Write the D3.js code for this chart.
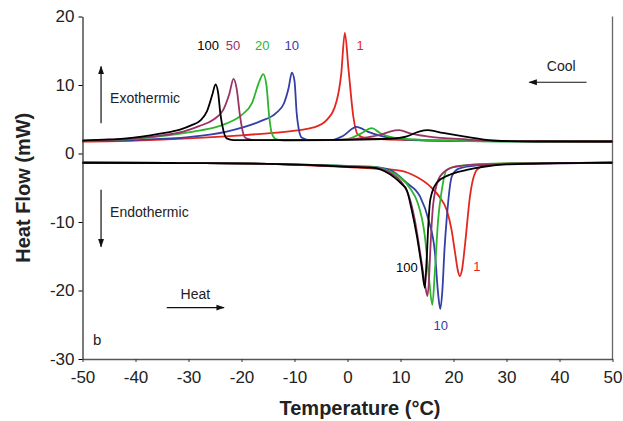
<!DOCTYPE html>
<html>
<head>
<meta charset="utf-8">
<script src="https://cdn.jsdelivr.net/npm/d3@7"></script>
<style>
  body { margin: 0; background: #fff; }
  text { font-family: Arial, "Liberation Sans", sans-serif; }
</style>
</head>
<body>
<div class="chart"></div>
<script>
const svgWidth = 623
const svgHeight = 421

let margin = { top: 16.5, right: 10.5, bottom: 62, left: 82.5 }
let width = svgWidth - margin.left - margin.right
let height = svgHeight - margin.top - margin.bottom

// ========================= DATA =========================
// rates (deg C / min)
const rates = ["1", "10", "20", "50", "100"]
const rateColors = ["#e3261f", "#3340a8", "#2db52d", "#993366", "#000000"]
const xTicks = [-50, -40, -30, -20, -10, 0, 10, 20, 30, 40, 50]
const yTicks = [-30, -20, -10, 0, 10, 20]

// cooling runs (exothermic) [temperature, heat flow]
const cool1 = [[-50, 1.75], [-40, 1.9], [-30, 2.2], [-20, 2.65], [-15, 2.95], [-10.3, 3.3], [-6.4, 3.8], [-3.9, 4.9],
  [-2.0, 7.8], [-1.2, 11.5], [-0.5, 17.6], [0.2, 12.2], [1.1, 5.4], [2.0, 2.7], [3.6, 2.25], [10, 2.0], [20, 1.9],
  [30, 1.8], [50, 1.75]]
const cool10 = [[-50, 1.8], [-40, 2.0], [-30, 2.4], [-22.8, 3.2], [-16.5, 4.7], [-13.5, 5.9], [-12, 7.3], [-11.1, 9.6],
  [-10.5, 11.8], [-10.0, 10.6], [-9.6, 6.0], [-9.1, 3.2], [-8.6, 2.3], [-7, 1.95], [-3, 1.95], [-0.8, 2.6],
  [1.7, 3.9], [3.8, 3.2], [6.1, 2.6], [10, 2.1], [15, 1.9], [25, 1.8], [50, 1.75]]
const cool20 = [[-50, 1.8], [-45, 1.95], [-40, 2.15], [-35.4, 2.5], [-29.1, 3.2], [-25, 3.8], [-22.8, 4.4], [-20, 5.6],
  [-18, 7.4], [-16.6, 10.6], [-15.9, 11.6], [-15.3, 10.0], [-14.8, 5.6], [-14.3, 3.0], [-13.5, 2.1], [-12, 1.9],
  [-3, 1.95], [0, 2.1], [2.5, 2.9], [4.6, 3.7], [6.1, 3.0], [8.7, 2.3], [14, 2.0], [20, 1.85], [30, 1.75], [50, 1.75]]
const cool50 = [[-50, 1.85], [-45, 1.95], [-40, 2.2], [-35.4, 2.6], [-31, 3.2], [-28, 4.0], [-25.4, 4.9], [-23.5, 6.3],
  [-22.3, 8.7], [-21.5, 10.9], [-20.9, 9.4], [-20.3, 5.6], [-19.7, 3.0], [-19.1, 2.2], [-17.5, 1.95], [-5, 1.95],
  [1, 2.1], [4, 2.4], [6.1, 2.7], [8, 3.2], [9.7, 3.4], [12, 2.9], [15, 2.5], [22.5, 2.05], [30, 1.8], [50, 1.75]]
const cool100 = [[-50, 1.9], [-45, 2.05], [-41.7, 2.2], [-35.4, 2.9], [-31.6, 3.5], [-29.5, 4.1], [-27.8, 4.8],
  [-26.5, 6.2], [-25.5, 8.6], [-24.9, 10.1], [-24.4, 8.8], [-24.0, 5.9], [-23.4, 3.3], [-22.8, 2.2], [-21.5, 1.95],
  [-10, 1.95], [0, 2.0], [8, 2.15], [11.2, 2.5], [13.5, 3.2], [15.2, 3.4], [18, 3.0], [21.9, 2.5], [27.5, 1.9],
  [35, 1.75], [50, 1.75]]

// heating runs (endothermic) [temperature, heat flow]
const heat1 = [[-50, -1.35], [-30, -1.4], [-15, -1.5], [-5, -1.8], [0, -2.0], [5, -2.2], [9.9, -2.5], [13, -3.4],
  [15.6, -4.8], [17.5, -6.5], [18.7, -8.2], [19.6, -11], [20.3, -14.5], [20.8, -17], [21.2, -17.9], [21.6, -17],
  [22.2, -13.1], [23.1, -6.3], [24.4, -2.4], [26, -1.7], [30, -1.45], [50, -1.35]]
const heat10 = [[-50, -1.35], [-30, -1.4], [-15, -1.5], [-5, -1.7], [0, -1.8], [5, -1.95], [8, -2.4], [11.2, -4.3],
  [13.7, -6.3], [15.3, -9.7], [16.5, -14.5], [17.1, -20.5], [17.5, -22.7], [17.9, -20], [18.3, -14], [18.7, -9.7],
  [19.7, -3.3], [21, -2.2], [25, -1.7], [30, -1.5], [50, -1.35]]
const heat20 = [[-50, -1.35], [-30, -1.4], [-15, -1.5], [-5, -1.7], [0, -1.85], [5, -2.0], [8, -2.6], [10, -3.5],
  [12, -5.3], [13.1, -6.9], [14.6, -12.1], [15.4, -18.4], [16.0, -22.1], [16.5, -17], [17.1, -9.7], [17.8, -5.3],
  [18.7, -2.4], [21, -1.8], [30, -1.45], [50, -1.35]]
const heat50 = [[-50, -1.35], [-30, -1.4], [-15, -1.5], [-5, -1.75], [0, -1.9], [5, -2.05], [8, -2.8], [10, -4.0],
  [11.5, -6.0], [12.7, -9.7], [14, -16], [14.7, -19.5], [15.1, -20.8], [15.4, -18], [15.6, -14.5], [16.2, -7.2],
  [17.5, -3.3], [20, -2.0], [25, -1.6], [50, -1.35]]
const heat100 = [[-50, -1.35], [-30, -1.4], [-15, -1.5], [-5, -1.75], [0, -1.95], [5, -2.1], [7, -2.6], [9, -3.6],
  [10, -4.3], [11.2, -5.4], [12.1, -8.2], [13.1, -12.1], [14.0, -16.5], [14.6, -19.6], [14.9, -16], [15.3, -9.7],
  [15.6, -6.8], [16.8, -4.3], [19, -3.2], [22.5, -2.4], [26, -1.9], [30, -1.6], [40, -1.4], [50, -1.35]]

const coolRuns = [cool1, cool10, cool20, cool50, cool100]
const heatRuns = [heat1, heat10, heat20, heat50, heat100]

// annotations in data units
const coolLabels = [["100", -26.3, 15.1, 4], ["50", -21.6, 15.1, 3], ["20", -16.1, 15.1, 2], ["10", -10.5, 15.1, 1], ["1", 2.4, 15.1, 0]]
const heatLabels = [["100", 11.2, -17.3, 4], ["1", 24.4, -17.2, 0], ["10", 17.6, -25.7, 1]]

// ========================= CHART =========================
let svg = d3.select(".chart").append("svg")
  .attr("width", svgWidth)
  .attr("height", svgHeight)

svg.append("defs").append("marker")
  .attr("id", "head")
  .attr("viewBox", "0 0 10 10")
  .attr("refX", 9).attr("refY", 5)
  .attr("markerWidth", 7).attr("markerHeight", 7)
  .attr("orient", "auto")
  .append("path")
  .attr("d", "M0,1.5 L10,5 L0,8.5 Z")
  .attr("fill", "#111")

let chartGroup = svg.append("g")
  .attr("transform", `translate(${margin.left}, ${margin.top})`)

let x = d3.scaleLinear().domain([-50, 50]).range([0, width])
let y = d3.scaleLinear().domain([-30, 20]).range([height, 0])

let line = d3.line()
  .x(d => x(d[0]))
  .y(d => y(d[1]))
  .curve(d3.curveMonotoneX)

// right border
chartGroup.append("line")
  .attr("x1", width).attr("x2", width)
  .attr("y1", 0).attr("y2", height)
  .attr("stroke", "#666").attr("stroke-width", 1.3)

// curves
for (let i = 0; i < rates.length; i++) {
  chartGroup.append("path")
    .datum(heatRuns[i])
    .attr("d", line)
    .attr("fill", "none")
    .attr("stroke", rateColors[i])
    .attr("stroke-width", 1.8)
  chartGroup.append("path")
    .datum(coolRuns[i])
    .attr("d", line)
    .attr("fill", "none")
    .attr("stroke", rateColors[i])
    .attr("stroke-width", 1.8)
}

// axes (plain hyphen for negatives, as in the figure)
let plain = d => String(d)
let bottomAxis = d3.axisBottom(x).tickValues(xTicks).tickFormat(plain).tickSize(3).tickSizeOuter(0).tickPadding(9)
let leftAxis = d3.axisLeft(y).tickValues(yTicks).tickFormat(plain).tickSize(4).tickSizeOuter(0).tickPadding(4)

let xAxis = chartGroup.append("g")
  .attr("transform", `translate(0, ${height})`)
  .call(bottomAxis)
xAxis.select(".domain").attr("stroke", "#555").attr("stroke-width", 1.6)
xAxis.selectAll(".tick line").attr("stroke", "#333")

let yAxis = chartGroup.append("g").call(leftAxis)
yAxis.select(".domain").attr("stroke", "#222").attr("stroke-width", 1.2)

chartGroup.selectAll(".tick text")
  .attr("font-size", 17)
  .attr("font-family", "Arial, 'Liberation Sans', sans-serif")
  .attr("fill", "#222")

// axis titles
svg.append("text")
  .attr("transform", `translate(30, ${margin.top + height / 2}) rotate(-90)`)
  .attr("text-anchor", "middle")
  .attr("font-size", 20)
  .attr("font-weight", "bold")
  .attr("fill", "#222")
  .text("Heat Flow (mW)")

svg.append("text")
  .attr("x", 360)
  .attr("y", 415)
  .attr("text-anchor", "middle")
  .attr("font-size", 20)
  .attr("font-weight", "bold")
  .attr("fill", "#222")
  .text("Temperature (°C)")

// rate labels
coolLabels.concat(heatLabels).forEach(l => {
  chartGroup.append("text")
    .attr("x", x(l[1]))
    .attr("y", y(l[2]))
    .attr("text-anchor", "middle")
    .attr("font-size", 13)
    .attr("fill", rateColors[l[3]])
    .text(l[0])
})

// side notes
function note(txt, t, v, size) {
  chartGroup.append("text")
    .attr("x", x(t)).attr("y", y(v))
    .attr("font-size", size)
    .attr("fill", "#222")
    .text(txt)
}
function arrow(t1, v1, t2, v2) {
  chartGroup.append("line")
    .attr("x1", x(t1)).attr("y1", y(v1))
    .attr("x2", x(t2)).attr("y2", y(v2))
    .attr("stroke", "#111").attr("stroke-width", 1.2)
    .attr("marker-end", "url(#head)")
}

note("Exothermic", -44.8, 7.4, 14)
arrow(-46.5, 4.4, -46.5, 12.7)
note("Endothermic", -44.8, -9.2, 14)
arrow(-46.5, -5.3, -46.5, -13.6)
note("Heat", -31.5, -21.2, 14)
arrow(-34.1, -22.5, -23.3, -22.5)
note("Cool", 37.6, 12.0, 14)
arrow(45.1, 10.4, 34.3, 10.4)
note("b", -48, -27.9, 15)
</script>
</body>
</html>
